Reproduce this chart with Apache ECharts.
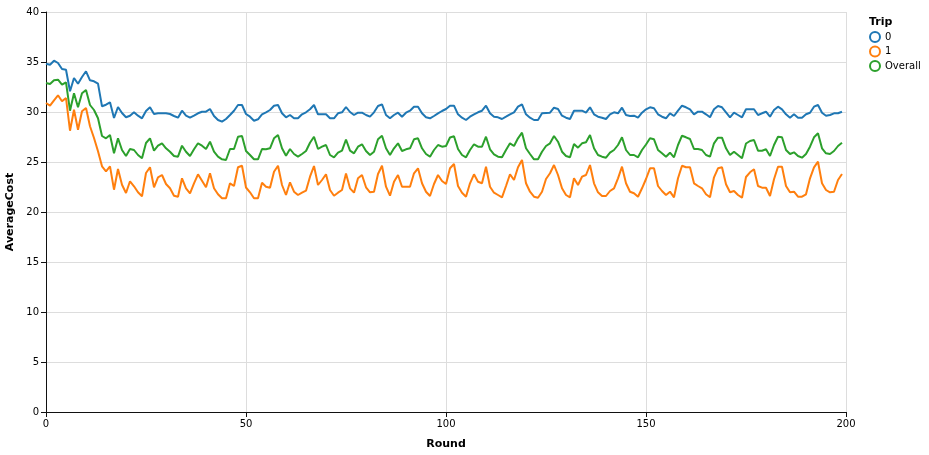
<!DOCTYPE html>
<html><head><meta charset="utf-8">
<script src="https://cdn.jsdelivr.net/npm/echarts@6/dist/echarts.min.js"></script>
<style>html,body{margin:0;padding:0;background:#fff}#c{width:929px;height:455px}</style>
</head><body><div id="c"></div>
<script>
var seriesNames = ['0', '1', 'Overall'];
var colors = ['#1f77b4', '#ff7f0e', '#2ca02c'];
var trip0 = [34.83,34.73,35.13,34.9,34.3,34.23,32.07,33.4,32.83,33.5,34.07,33.17,33.07,32.83,30.57,30.73,30.97,29.4,30.5,29.9,29.47,29.63,29.97,29.63,29.37,
30.1,
30.47,29.8,29.87,29.87,29.87,29.8,29.6,29.43,30.13,29.63,29.43,29.63,29.87,30.03,30.03,30.3,29.6,29.2,29.03,29.3,29.7,30.13,30.7,30.7,
29.8,
29.53,29.13,29.27,29.77,29.97,30.2,30.63,30.7,29.87,29.47,29.7,29.37,29.37,29.77,29.97,30.27,30.7,29.77,29.77,29.77,29.37,29.37,29.87,29.97,
30.5,
30.0,29.7,29.93,29.93,29.7,29.53,29.97,30.6,30.77,29.7,29.37,29.7,29.93,29.53,29.93,30.13,30.53,30.53,29.87,29.47,29.37,29.6,29.87,30.1,
30.3,
30.63,30.63,29.77,29.43,29.2,29.53,29.77,29.97,30.13,30.63,29.87,29.53,29.47,29.3,29.53,29.77,29.97,30.53,30.77,29.77,29.43,29.2,29.2,29.87,
29.9,
29.93,30.43,30.3,29.63,29.43,29.3,30.13,30.13,30.13,29.93,30.47,29.77,29.53,29.43,29.3,29.77,29.97,29.87,30.43,29.7,29.6,29.63,29.43,29.93,
30.27,
30.47,30.37,29.77,29.53,29.37,29.87,29.6,30.13,30.63,30.47,30.27,29.77,30.03,30.03,29.77,29.47,30.27,30.6,30.47,29.97,29.47,29.93,29.7,29.47,
30.27,
30.27,30.27,29.7,29.87,30.03,29.53,30.2,30.53,30.27,29.77,29.43,29.77,29.43,29.43,29.77,29.93,30.53,30.7,29.93,29.63,29.7,29.87,29.87,30.03];
var trip1 = [30.9,30.63,31.17,31.67,31.07,31.4,28.13,30.23,28.23,30.07,30.4,28.57,27.4,26.07,24.57,24.07,24.57,22.23,24.3,22.73,21.9,23.07,22.57,21.97,21.57,
23.9,
24.47,22.47,23.47,23.7,22.8,22.37,21.63,21.53,23.37,22.37,21.87,22.87,23.77,23.13,22.47,23.87,22.37,21.77,21.37,21.37,22.87,22.6,24.47,24.63,
22.45,
21.97,21.37,21.37,22.93,22.53,22.43,24.03,24.63,22.7,21.7,22.97,22.03,21.7,21.93,22.13,23.53,24.6,22.7,23.2,23.77,22.2,21.63,21.93,22.2,
23.85,
22.37,21.93,23.37,23.7,22.47,21.97,22.03,23.8,24.63,22.53,21.63,23.03,23.7,22.53,22.53,22.53,23.87,24.37,22.87,22.03,21.6,22.8,23.7,23.1,
22.8,
24.37,24.8,22.6,21.93,21.53,22.87,23.77,23.03,22.87,24.53,22.53,21.93,21.7,21.47,22.6,23.77,23.2,24.47,25.2,22.87,22.03,21.53,21.43,22.03,
23.3,
23.87,24.7,23.7,22.37,21.7,21.47,23.37,22.7,23.53,23.7,24.7,22.87,21.97,21.6,21.6,22.1,22.37,23.37,24.53,22.87,22.03,21.87,21.53,22.37,
23.3,
24.37,24.37,22.6,22.1,21.7,22.03,21.47,23.37,24.63,24.47,24.47,22.87,22.6,22.37,21.77,21.47,23.47,24.37,24.47,22.77,21.97,22.1,21.7,21.43,
23.5,
23.97,24.27,22.6,22.43,22.43,21.6,23.27,24.53,24.53,22.6,21.97,22.03,21.53,21.53,21.77,23.37,24.47,25.03,22.87,22.2,21.97,22.03,23.2,23.8];
var overall = [32.9,32.8,33.17,33.23,32.73,32.97,30.13,31.87,30.47,31.87,32.2,30.7,30.2,29.37,27.6,27.37,27.7,25.87,27.37,26.2,25.6,26.3,26.2,25.7,25.37,
26.9,
27.37,26.13,26.63,26.87,26.37,26.03,25.6,25.53,26.63,26.03,25.6,26.27,26.87,26.63,26.3,27.03,26.03,25.53,25.27,25.2,26.3,26.3,27.53,27.6,
26.1,
25.7,25.27,25.27,26.3,26.27,26.37,27.37,27.7,26.37,25.63,26.3,25.8,25.53,25.8,26.1,26.93,27.53,26.3,26.53,26.7,25.7,25.47,25.93,26.13,
27.25,
26.13,25.87,26.53,26.77,26.1,25.7,26.03,27.27,27.63,26.37,25.7,26.37,26.87,26.1,26.27,26.37,27.27,27.37,26.37,25.8,25.53,26.2,26.7,26.53,
26.6,
27.45,27.57,26.3,25.7,25.47,26.2,26.77,26.53,26.53,27.53,26.27,25.77,25.53,25.47,26.2,26.87,26.6,27.37,27.93,26.37,25.8,25.27,25.27,26.03,
26.6,
26.87,27.6,27.03,26.03,25.6,25.47,26.8,26.43,26.87,26.97,27.7,26.37,25.7,25.53,25.43,25.93,26.2,26.7,27.47,26.2,25.7,25.7,25.47,26.2,
26.75,
27.37,27.27,26.2,25.87,25.53,25.93,25.47,26.7,27.63,27.47,27.3,26.3,26.3,26.2,25.7,25.53,26.87,27.43,27.43,26.37,25.7,26.03,25.7,25.37,
26.85,
27.1,27.2,26.13,26.13,26.27,25.6,26.7,27.53,27.47,26.2,25.8,25.97,25.6,25.43,25.8,26.53,27.47,27.87,26.37,25.87,25.8,26.1,26.6,26.93];
var xTicks = [0, 50, 100, 150, 200];
var yTicks = [0, 5, 10, 15, 20, 25, 30, 35, 40];

var allData = [trip0, trip1, overall];
var font = 'DejaVu Sans, sans-serif';
var chart = echarts.init(document.getElementById('c'), null, {renderer: 'canvas'});
var series = allData.map(function (arr, i) {
  return {
    name: seriesNames[i], type: 'line', showSymbol: false, symbol: 'none',
    data: arr.map(function (v, r) { return [r, v]; }),
    lineStyle: {width: 2, color: colors[i]}, itemStyle: {color: colors[i]},
    animation: false, z: 3 - i
  };
});
chart.setOption({
  animation: false,
  grid: {left: 46, right: 83, top: 12, bottom: 43, containLabel: false, outerBoundsMode: 'none'},
  xAxis: {
    type: 'value', min: xTicks[0], max: xTicks[xTicks.length - 1], interval: 50,
    name: 'Round', nameLocation: 'middle', nameGap: 27,
    nameTextStyle: {fontFamily: font, fontSize: 11, fontWeight: 'bold', color: '#000'},
    axisLine: {show: true, onZero: false, lineStyle: {color: '#111', width: 1}},
    axisTick: {show: true, length: 5, lineStyle: {color: '#111'}},
    axisLabel: {fontFamily: font, fontSize: 10, color: '#000', margin: 7},
    splitLine: {show: true, lineStyle: {color: '#ddd', width: 1}}
  },
  yAxis: {
    type: 'value', min: yTicks[0], max: yTicks[yTicks.length - 1], interval: 5,
    name: 'AverageCost', nameLocation: 'middle', nameGap: 28, nameRotate: 90,
    nameTextStyle: {fontFamily: font, fontSize: 11, fontWeight: 'bold', color: '#000'},
    axisLine: {show: true, lineStyle: {color: '#111', width: 1}},
    axisTick: {show: true, length: 5, lineStyle: {color: '#111'}},
    axisLabel: {fontFamily: font, fontSize: 10, color: '#000', margin: 7},
    splitLine: {show: true, lineStyle: {color: '#ddd', width: 1}}
  },
  legend: {
    orient: 'vertical', left: 869, top: 31, padding: 0, itemGap: 2.5, itemWidth: 10, itemHeight: 10,
    textStyle: {fontFamily: font, fontSize: 10, color: '#000'},
    data: seriesNames.map(function (n, i) {
      return {name: n, icon: 'circle', itemStyle: {color: 'rgba(0,0,0,0)', borderColor: colors[i], borderWidth: 2}};
    })
  },
  graphic: [{type: 'text', left: 869, top: 17, style: {text: 'Trip', font: 'bold 11px ' + font, fill: '#000'}}],
  series: series
});
</script></body></html>
